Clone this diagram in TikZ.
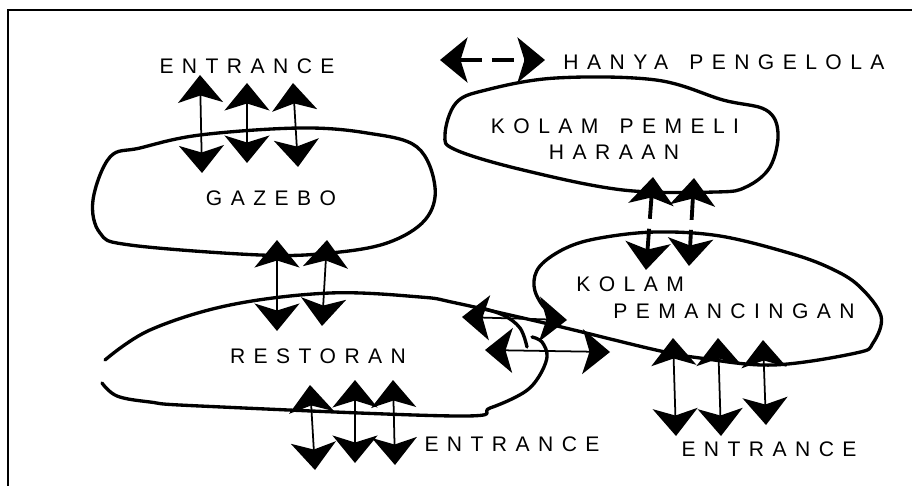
\documentclass[tikz,border=0pt]{standalone}
\usepackage{fontspec}
\usepackage{tikz}
\usetikzlibrary{arrows.meta}
\newfontfamily\sketchfont[LetterSpace=40]{Liberation Sans}

\begin{document}
\begin{tikzpicture}[
                x=0.02cm, y=-0.02cm,
                every node/.style={font=\sketchfont\fontsize{12}{14}\selectfont, inner sep=0pt},
                zone/.style={line width=1.9pt, line join=round, line cap=round},
                link/.style={{Stealth[length=0.55cm, width=0.9cm, inset=0.14cm]}-{Stealth[length=0.55cm, width=0.9cm, inset=0.14cm]}, line width=1pt},
                staff/.style={link, line width=2.2pt, dash pattern=on 0.45cm off 0.2cm}
            ]
                \useasboundingbox (0,0) rectangle (912,486);
                \draw[line width=1pt] (8,486) -- (8,10) -- (912,10);

                % zones
                \draw[zone] plot[smooth cycle, tension=0.6] coordinates {(110,157) (93,200) (100,233) (130,245) (260,255) (330,253) (387,243) (425,220) (435,187) (417,147) (367,133) (300,128) (200,135) (140,148)};
                \draw[zone] plot[smooth cycle, tension=0.6] coordinates {(445,135) (456,150) (523,170) (623,190) (716,192) (746,187) (770,167) (778,133) (766,110) (723,100) (656,80) (556,78) (486,90) (456,103)};
                \draw[zone] plot[smooth, tension=0.6] coordinates {(105,360) (150,330) (230,305) (330,293) (420,297) (456,303) (553,325) (656,350) (700,358) (773,365) (856,353) (873,343) (881,316) (859,286) (830,268) (789,253) (720,236) (656,232) (600,238) (566,248) (540,266) (534,286) (543,306) (560,320)};
                \draw[zone] plot[smooth, tension=0.6] coordinates {(102,383) (117,396) (150,402) (200,406) (456,416) (490,408) (523,393) (538,378) (547,357) (542,342) (532,337)};
                \draw[zone] plot[smooth, tension=0.6] coordinates {(478,307) (503,315) (520,328) (527,347)};

                % labels
                \node (ent1) at (247,66)  {ENTRANCE};
                \node (leg)  at (724,62)  {HANYA\hspace{1em}PENGELOLA};
                \node (kpm1) at (615,126) {KOLAM\hspace{1em}PEMELI};
                \node (kpm2) at (614,152) {HARAAN};
                \node (gzb)  at (271,198) {GAZEBO};
                \node (rst)  at (318,356) {RESTORAN};
                \node[anchor=west] (kpc1) at (576,284) {KOLAM};
                \node (kpc2) at (734,311) {PEMANCINGAN};
                \node (ent2) at (512,444) {ENTRANCE};
                \node (ent3) at (769,449) {ENTRANCE};

                % connectors
                \foreach \n/\xa/\ya/\xb/\yb in {g1/200/75/202/173, g2/247/83/247/163, g3/293/83/298/167,
                        r1/277/240/277/331, r2/327/240/322/326,
                        e1/310/385/315/470, e2/355/380/355/463, e3/393/380/395/465,
                        p1/673/338/676/436, p2/718/338/721/436, p3/763/340/766/425,
                        h1/462/317/567/320, h2/485/350/610/352} {
                    \coordinate (\n-a) at (\xa,\ya);
                    \coordinate (\n-b) at (\xb,\yb);
                    \draw[link] (\n-a) -- (\n-b);
                }
                \foreach \n/\xa/\ya/\xb/\yb in {m1/653/177/646/270, m2/694/178/689/266, k/440/60/545/60} {
                    \coordinate (\n-a) at (\xa,\ya);
                    \coordinate (\n-b) at (\xb,\yb);
                    \draw[staff] (\n-a) -- (\n-b);
                }
            \end{tikzpicture}
\end{document}
